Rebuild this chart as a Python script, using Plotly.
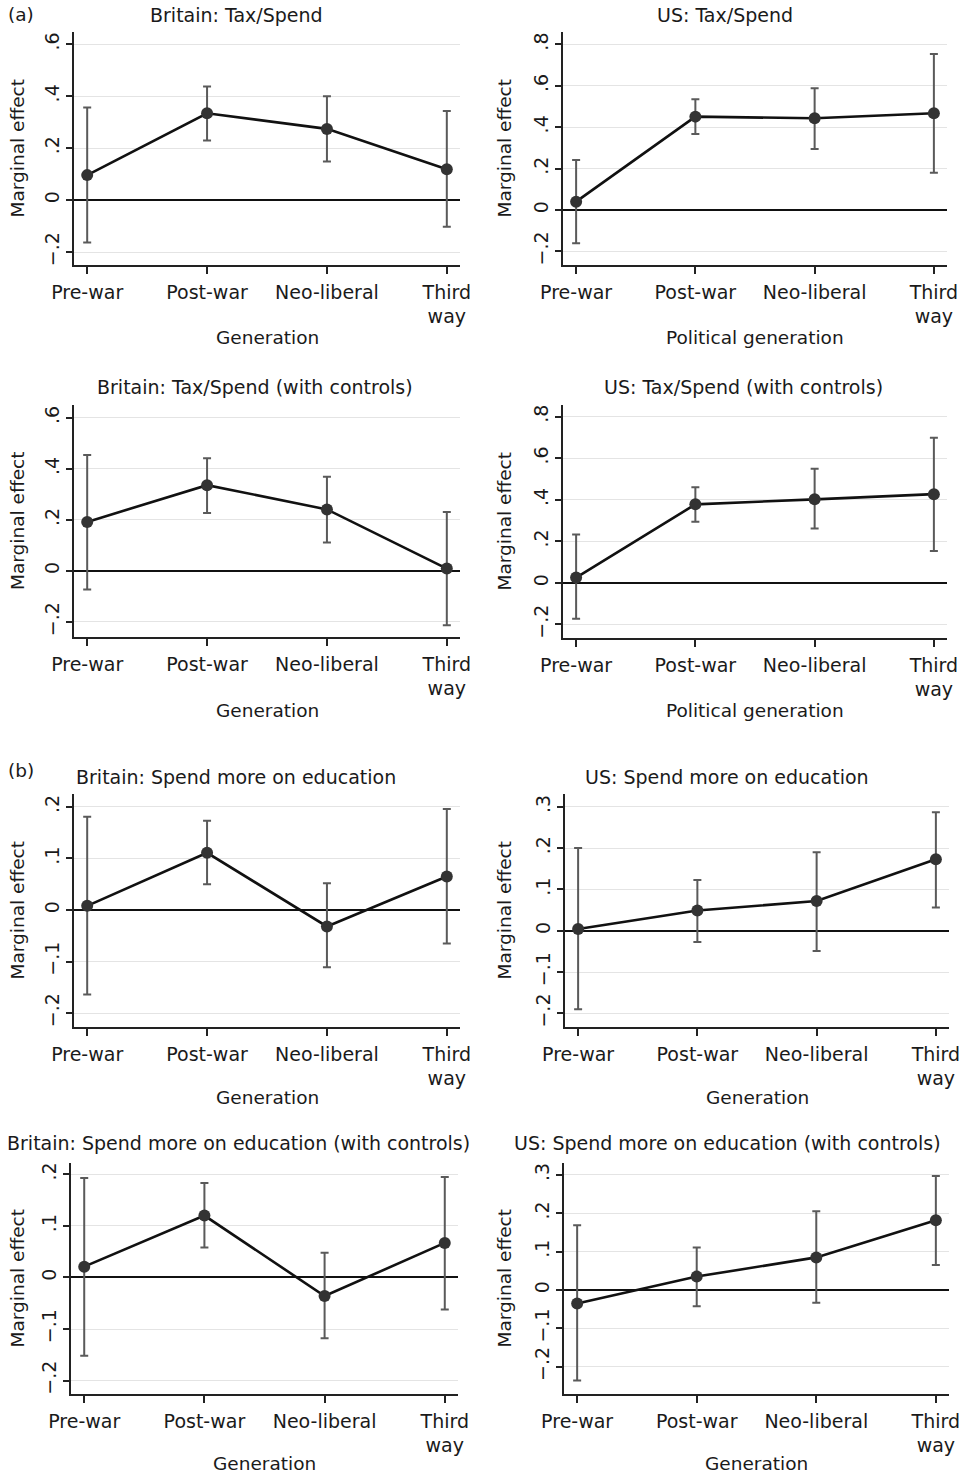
import plotly.graph_objects as go

# ---------------- data ----------------
categories = ["Pre-war", "Post-war", "Neo-liberal", "Third<br>way"]

brit_tax_est = [0.096, 0.334, 0.274, 0.119]
brit_tax_lo = [-0.163, 0.229, 0.148, -0.103]
brit_tax_hi = [0.356, 0.437, 0.400, 0.343]

us_tax_est = [0.040, 0.451, 0.443, 0.467]
us_tax_lo = [-0.161, 0.367, 0.295, 0.180]
us_tax_hi = [0.242, 0.535, 0.588, 0.754]

brit_taxc_est = [0.192, 0.336, 0.241, 0.009]
brit_taxc_lo = [-0.073, 0.227, 0.111, -0.213]
brit_taxc_hi = [0.454, 0.441, 0.369, 0.231]

us_taxc_est = [0.026, 0.378, 0.402, 0.427]
us_taxc_lo = [-0.172, 0.294, 0.262, 0.154]
us_taxc_hi = [0.233, 0.460, 0.549, 0.699]

brit_edu_est = [0.008, 0.111, -0.032, 0.065]
brit_edu_lo = [-0.164, 0.050, -0.111, -0.065]
brit_edu_hi = [0.181, 0.173, 0.052, 0.196]

us_edu_est = [0.004, 0.049, 0.072, 0.173]
us_edu_lo = [-0.190, -0.027, -0.049, 0.056]
us_edu_hi = [0.200, 0.123, 0.190, 0.287]

brit_educ_est = [0.021, 0.120, -0.036, 0.067]
brit_educ_lo = [-0.152, 0.058, -0.118, -0.062]
brit_educ_hi = [0.193, 0.183, 0.048, 0.195]

us_educ_est = [-0.035, 0.035, 0.085, 0.182]
us_educ_lo = [-0.236, -0.042, -0.033, 0.065]
us_educ_hi = [0.169, 0.111, 0.205, 0.297]

tax_brit_ticks = [-0.2, 0, 0.2, 0.4, 0.6]
tax_brit_labels = ["\u2212.2", "0", ".2", ".4", ".6"]
tax_us_ticks = [-0.2, 0, 0.2, 0.4, 0.6, 0.8]
tax_us_labels = ["\u2212.2", "0", ".2", ".4", ".6", ".8"]
edu_brit_ticks = [-0.2, -0.1, 0, 0.1, 0.2]
edu_brit_labels = ["\u2212.2", "\u2212.1", "0", ".1", ".2"]
edu_us_ticks = [-0.2, -0.1, 0, 0.1, 0.2, 0.3]
edu_us_labels = ["\u2212.2", "\u2212.1", "0", ".1", ".2", ".3"]

titles = ["Britain: Tax/Spend", "US: Tax/Spend",
          "Britain: Tax/Spend (with controls)", "US: Tax/Spend (with controls)",
          "Britain: Spend more on education", "US: Spend more on education",
          "Britain: Spend more on education (with controls)",
          "US: Spend more on education (with controls)"]
xtitles = ["Generation", "Political generation", "Generation", "Political generation",
           "Generation", "Generation", "Generation", "Generation"]
ytitle = "Marginal effect"

# ---------------- layout (pixel geometry) ----------------
W, H = 968, 1476
panels = [
    dict(est=brit_tax_est, lo=brit_tax_lo, hi=brit_tax_hi, tv=tax_brit_ticks, tt=tax_brit_labels,
         yr=[-0.25, 0.647], xd=(74, 460), yd=(32, 265), tpos=(236, 15), xtpos=(267, 338), ytx=17),
    dict(est=us_tax_est, lo=us_tax_lo, hi=us_tax_hi, tv=tax_us_ticks, tt=tax_us_labels,
         yr=[-0.266, 0.86], xd=(563, 947), yd=(32, 265), tpos=(725, 15), xtpos=(755, 338), ytx=504),
    dict(est=brit_taxc_est, lo=brit_taxc_lo, hi=brit_taxc_hi, tv=tax_brit_ticks, tt=tax_brit_labels,
         yr=[-0.259, 0.65], xd=(74, 460), yd=(405, 637), tpos=(255, 387), xtpos=(267, 710), ytx=17),
    dict(est=us_taxc_est, lo=us_taxc_lo, hi=us_taxc_hi, tv=tax_us_ticks, tt=tax_us_labels,
         yr=[-0.265, 0.856], xd=(563, 947), yd=(405, 638), tpos=(743, 387), xtpos=(755, 710), ytx=504),
    dict(est=brit_edu_est, lo=brit_edu_lo, hi=brit_edu_hi, tv=edu_brit_ticks, tt=edu_brit_labels,
         yr=[-0.227, 0.225], xd=(74, 460), yd=(794, 1027), tpos=(236, 777), xtpos=(267, 1097), ytx=17),
    dict(est=us_edu_est, lo=us_edu_lo, hi=us_edu_hi, tv=edu_us_ticks, tt=edu_us_labels,
         yr=[-0.233, 0.331], xd=(565, 949), yd=(794, 1027), tpos=(727, 777), xtpos=(757, 1097), ytx=504),
    dict(est=brit_educ_est, lo=brit_educ_lo, hi=brit_educ_hi, tv=edu_brit_ticks, tt=edu_brit_labels,
         yr=[-0.226, 0.222], xd=(71, 458), yd=(1163, 1394), tpos=(238, 1143), xtpos=(264, 1463), ytx=17),
    dict(est=us_educ_est, lo=us_educ_lo, hi=us_educ_hi, tv=edu_us_ticks, tt=edu_us_labels,
         yr=[-0.271, 0.331], xd=(564, 949), yd=(1163, 1394), tpos=(727, 1143), xtpos=(756, 1463), ytx=504),
]

FONT = "DejaVu Sans"
TXT = "#1a1a1a"
fig = go.Figure()
layout = dict(width=W, height=H, autosize=False, margin=dict(l=0, r=0, t=0, b=0, pad=0),
              paper_bgcolor="white", plot_bgcolor="white", showlegend=False,
              font=dict(family=FONT, size=19, color=TXT))
annotations = []

def px(x):
    return x / W

def py(y):
    return 1 - y / H

for i, p in enumerate(panels, start=1):
    sfx = "" if i == 1 else str(i)
    est, lo, hi = p["est"], p["lo"], p["hi"]
    fig.add_trace(go.Scatter(
        x=categories, y=est, mode="lines+markers",
        line=dict(color="#111111", width=2.6),
        marker=dict(color="#333333", size=12),
        error_y=dict(type="data", symmetric=False,
                     array=[h - e for h, e in zip(hi, est)],
                     arrayminus=[e - l for e, l in zip(est, lo)],
                     color="#5a5a5a", thickness=2, width=4),
        xaxis="x" + sfx, yaxis="y" + sfx, hoverinfo="skip"))
    layout["xaxis" + sfx] = dict(
        domain=[px(p["xd"][0]), px(p["xd"][1])], anchor="y" + sfx, automargin=False,
        type="category", range=[-0.11, 3.11],
        showline=True, linecolor="#222222", linewidth=1.5,
        ticks="outside", ticklen=7, tickwidth=1.5, tickcolor="#222222",
        ticklabelstandoff=2,
        showgrid=False, zeroline=False, tickfont=dict(size=19, color=TXT))
    layout["yaxis" + sfx] = dict(
        domain=[py(p["yd"][1]), py(p["yd"][0])], anchor="x" + sfx, automargin=False,
        range=p["yr"], tickvals=p["tv"], ticktext=p["tt"], tickangle=-90,
        showline=True, linecolor="#222222", linewidth=1.5,
        ticks="outside", ticklen=6, tickwidth=1.5, tickcolor="#222222",
        showgrid=True, gridcolor="#e4e4e4", gridwidth=1,
        zeroline=True, zerolinecolor="#111111", zerolinewidth=1.5,
        tickfont=dict(size=19, color=TXT))
    annotations.append(dict(text=titles[i - 1], x=px(p["tpos"][0]), y=py(p["tpos"][1]),
                            xref="paper", yref="paper", xanchor="center", yanchor="middle",
                            showarrow=False, font=dict(size=19, color=TXT)))
    annotations.append(dict(text=xtitles[i - 1], x=px(p["xtpos"][0]), y=py(p["xtpos"][1]),
                            xref="paper", yref="paper", xanchor="center", yanchor="middle",
                            showarrow=False, font=dict(size=18.5, color=TXT)))
    annotations.append(dict(text=ytitle, x=px(p["ytx"]), y=py((p["yd"][0] + p["yd"][1]) / 2),
                            xref="paper", yref="paper", xanchor="center", yanchor="middle",
                            textangle=-90, showarrow=False, font=dict(size=18.5, color=TXT)))

annotations.append(dict(text="(a)", x=px(21), y=py(15), xref="paper", yref="paper",
                        xanchor="center", yanchor="middle", showarrow=False,
                        font=dict(size=18.5, color=TXT)))
annotations.append(dict(text="(b)", x=px(21), y=py(770), xref="paper", yref="paper",
                        xanchor="center", yanchor="middle", showarrow=False,
                        font=dict(size=18.5, color=TXT)))

layout["annotations"] = annotations
fig.update_layout(**layout)
fig.write_html("out.html", config={"displayModeBar": False},
               post_script="document.body.style.margin='0';document.body.style.overflow='hidden';")
